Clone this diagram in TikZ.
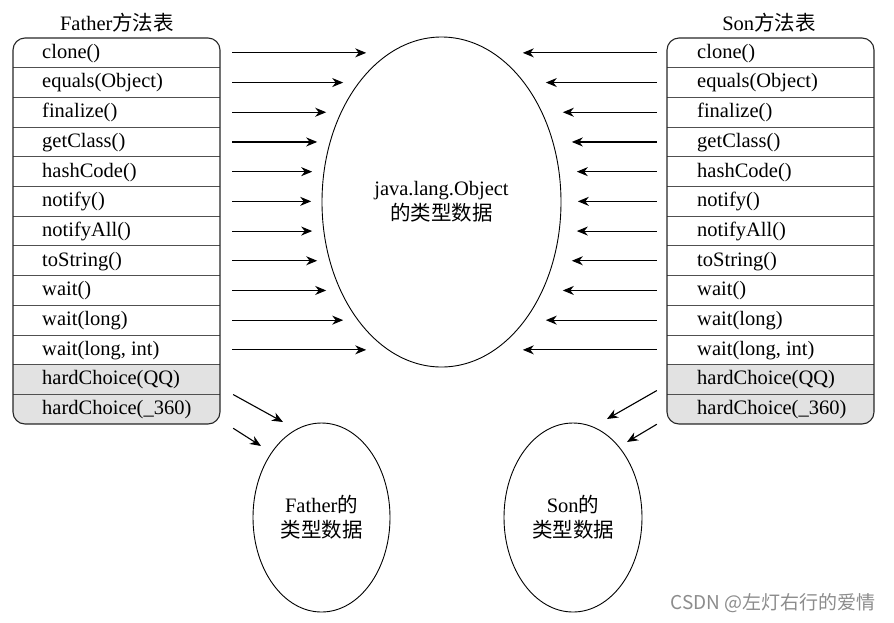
\documentclass[tikz,border=0pt]{standalone}
\usepackage{fontspec}
\setmainfont{Liberation Serif}
\newfontfamily\cjk{Noto Sans CJK SC}
\newfontfamily\wmfont{Noto Sans CJK SC}
\usetikzlibrary{arrows.meta,shapes.geometric}
\definecolor{rowgray}{HTML}{E2E2E2}
\definecolor{lineg}{HTML}{505050}
\begin{document}
\begin{tikzpicture}[x=1pt,y=-1pt,
  txt/.style={font=\fontsize{20.5}{24}\selectfont, inner sep=0pt, anchor=west},
  ttl/.style={font=\fontsize{20.5}{24}\selectfont, inner sep=0pt},
  cell/.style={minimum width=207pt, minimum height=29.7pt, inner sep=0pt},
  arr/.style={line width=1.1pt, -{Stealth[length=11pt,width=9pt,inset=3.5pt]}},
  oval/.style={draw, ellipse, line width=0.9pt, inner sep=0pt, align=center,
    font=\fontsize{20.5}{25}\selectfont},
  tbl/.style={draw=black!85, line width=1.1pt, rounded corners=12pt},
  div/.style={draw=lineg, line width=0.9pt}
]
\useasboundingbox (0,0) rectangle (894,622);

% titles
\node[ttl] (tF) at (117,23) {Father{\cjk 方法表}};
\node[ttl] (tS) at (769,23) {Son{\cjk 方法表}};

% tables
\foreach \s/\xl/\tx in {L/13/42, R/667/697} {
  \begin{scope}
    \clip[rounded corners=12pt] (\xl,38) rectangle ({\xl+207},424);
    \fill[rowgray] (\xl,{38+29.7*11}) rectangle ({\xl+207},424);
  \end{scope}
  \foreach \k in {1,...,12}
    \draw[div] (\xl,{38+29.7*\k}) -- ({\xl+207},{38+29.7*\k});
  \draw[tbl] (\xl,38) rectangle ({\xl+207},424);
  \foreach \t [count=\i] in {clone(), equals(Object), finalize(), getClass(),
      hashCode(), notify(), notifyAll(), toString(), wait(), wait(long),
      {wait(long, int)}, hardChoice(QQ), hardChoice(\_360)} {
    \node[cell] (\s\i) at ({\xl+103.5},{38+29.7*\i-14.85}) {};
    \node[txt] (\s t\i) at (\tx,{38+29.7*\i-14.35}) {\t};
  }
}

% ellipses
\node[oval, minimum width=239pt, minimum height=330pt] (obj) at (441.5,202)
  {java.lang.Object\\{\cjk 的类型数据}};
\node[oval, minimum width=137pt, minimum height=189pt] (fat) at (321.5,517.5)
  {Father{\cjk 的}\\{\cjk 类型数据}};
\node[oval, minimum width=138pt, minimum height=189pt] (son) at (573,517.5)
  {Son{\cjk 的}\\{\cjk 类型数据}};

% horizontal arrows
\foreach \i/\len in {1/134,2/111,3/94,4/85,5/80,6/79,7/80,8/85,9/94,10/111,11/134} {
  \draw[arr] ([xshift=12pt]L\i.east) -- ++(\len,0);
  \draw[arr] ([xshift=-10pt]R\i.west) -- ++(-\len,0);
}

% diagonal arrows
\coordinate (fa1) at (283,422);
\coordinate (fa2) at (261,446);
\coordinate (sa1) at (607,419);
\coordinate (sa2) at (627,442);
\draw[arr] ([shift={(13,15)}]L12.east) -- (fa1);
\draw[arr] ([shift={(13,19)}]L13.east) -- (fa2);
\draw[arr] ([shift={(-10,11)}]R12.west) -- (sa1);
\draw[arr] ([shift={(-10,15)}]R13.west) -- (sa2);

% watermark
\node[inner sep=0pt, text=black!45, font=\wmfont\fontsize{19}{21}\selectfont]
  (wm) at (773,603) {CSDN @左灯右行的爱情};
\end{tikzpicture}
\end{document}
